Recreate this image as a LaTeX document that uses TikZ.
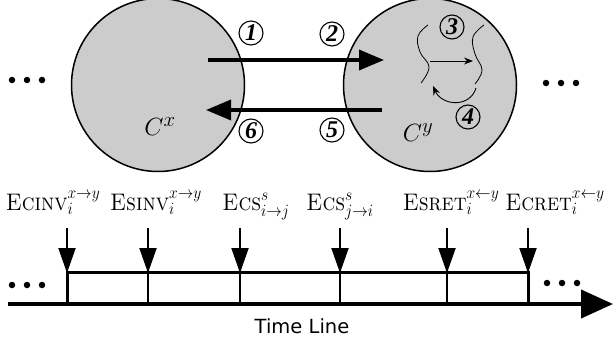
\documentclass[tikz,border=0pt]{standalone}
\usepackage{fontspec}
\usepackage{graphicx}
\newfontfamily\dejavu{DejaVu Sans}
\newfontfamily\timesf{Liberation Serif}
\usetikzlibrary{arrows.meta}
\newcommand{\evtext}[1]{\scalebox{0.9}[1]{#1}}
\begin{document}
\begin{tikzpicture}[x=1pt,y=-1pt,
  bigcirc/.style={circle,draw=black,line width=1.5pt,fill=black!20,minimum size=173pt,inner sep=0pt},
  numc/.style={circle,draw=black,line width=1.1pt,inner sep=0pt,minimum size=24pt,font=\timesf\fontsize{24}{24}\selectfont\bfseries\itshape},
  bigarrow/.style={line width=3.5pt,-{Triangle[length=25pt,width=20pt]}},
  thinarrow/.style={line width=0.9pt,-{Stealth[length=9pt,width=7pt]}},
  wave/.style={line width=0.8pt},
  dot/.style={circle,fill=black,inner sep=0pt,minimum size=6.5pt},
  evarrow/.style={line width=2pt,-{Triangle[length=25pt,width=17pt]}},
  evlabel/.style={anchor=base,inner sep=0pt,font=\fontsize{24}{24}\selectfont},
  clabel/.style={font=\fontsize{31}{31}\selectfont},
  axis/.style={line width=4pt,-{Triangle[length=32pt,width=28pt]}},
  boxline/.style={line width=3pt},
  tick/.style={line width=2.5pt}
]
\useasboundingbox (0,0) rectangle (613,337);
% clusters
\node[bigcirc] (cx) at (158,85) {};
\node[bigcirc] (cy) at (430,85) {};
\node[clabel] (lx) at (160,127) {$C^x$};
\node[clabel] (ly) at (418,133) {$C^y$};
% big arrows
\coordinate (a1s) at (208,60);
\coordinate (a1e) at (384,60);
\coordinate (a2s) at (382,110);
\coordinate (a2e) at (206,110);
\draw[bigarrow] (a1s) -- (a1e);
\draw[bigarrow] (a2s) -- (a2e);
% numbers
\node[numc] (n1) at (251,33) {1};
\node[numc] (n2) at (332,34) {2};
\node[numc] (n3) at (452,27) {3};
\node[numc] (n4) at (468,117) {4};
\node[numc] (n5) at (332,130) {5};
\node[numc] (n6) at (251,131) {6};
% waves in C^y
\draw[wave] plot[smooth,tension=0.7] coordinates {(428,25) (418,36) (420,52) (429,67) (421,83)};
\draw[wave] plot[smooth,tension=0.7] coordinates {(484,25) (473,37) (475,54) (482,70) (475,84)};
\coordinate (t1) at (430,61);
\coordinate (t2) at (473,61);
\draw[thinarrow] (t1) -- (t2);
\coordinate (r1) at (476,88);
\coordinate (r2) at (433,86);
\draw[thinarrow] (r1) .. controls (470,108) and (442,106) .. (r2);
% dots top
\foreach \x/\n in {12/a,27/b,42/c} \node[dot] (dl\n) at (\x,80) {};
\foreach \x/\n in {546/a,561/b,576/c} \node[dot] (dr\n) at (\x,83) {};
% timeline
\coordinate (ax0) at (8,304);
\coordinate (ax1) at (613,304);
\draw[axis] (ax0) -- (ax1);
\coordinate (b0) at (67,304);
\coordinate (b0t) at (67,272);
\coordinate (b5t) at (528,272);
\coordinate (b5) at (528,304);
\draw[boxline] (b0) -- (b0t) -- (b5t) -- (b5);
\foreach \x/\n in {148/1,240/2,340/3,447/4} {
  \coordinate (bt\n) at (\x,272);
  \coordinate (bb\n) at (\x,304);
  \draw[tick] (bt\n) -- (bb\n);
}
\foreach \x/\n in {67/0,148/1,240/2,340/3,447/4,528/5} {
  \coordinate (es\n) at (\x,228);
  \coordinate (ee\n) at (\x,273);
  \draw[evarrow] (es\n) -- (ee\n);
}
\foreach \x/\n in {12/a,27/b,42/c} \node[dot] (tl\n) at (\x,285) {};
\foreach \x/\n in {547/a,562/b,577/c} \node[dot] (tr\n) at (\x,283) {};
% labels
\node[evlabel] (L0) at (53,210) {\evtext{\textsc{Ecinv}$_i^{x\rightarrow y}$}};
\node[evlabel] (L1) at (156,210) {\evtext{\textsc{Esinv}$_i^{x\rightarrow y}$}};
\node[evlabel] (L2) at (256,210) {\evtext{\textsc{Ecs}$_{i\rightarrow j}^{s}$}};
\node[evlabel] (L3) at (340,210) {\evtext{\textsc{Ecs}$_{j\rightarrow i}^{s}$}};
\node[evlabel] (L4) at (451,210) {\evtext{\textsc{Esret}$_i^{x\leftarrow y}$}};
\node[evlabel] (L5) at (555,210) {\evtext{\textsc{Ecret}$_i^{x\leftarrow y}$}};
\node[font=\dejavu\fontsize{19.5}{19.5}\selectfont] (tl) at (302,326) {Time Line};
\end{tikzpicture}
\end{document}
